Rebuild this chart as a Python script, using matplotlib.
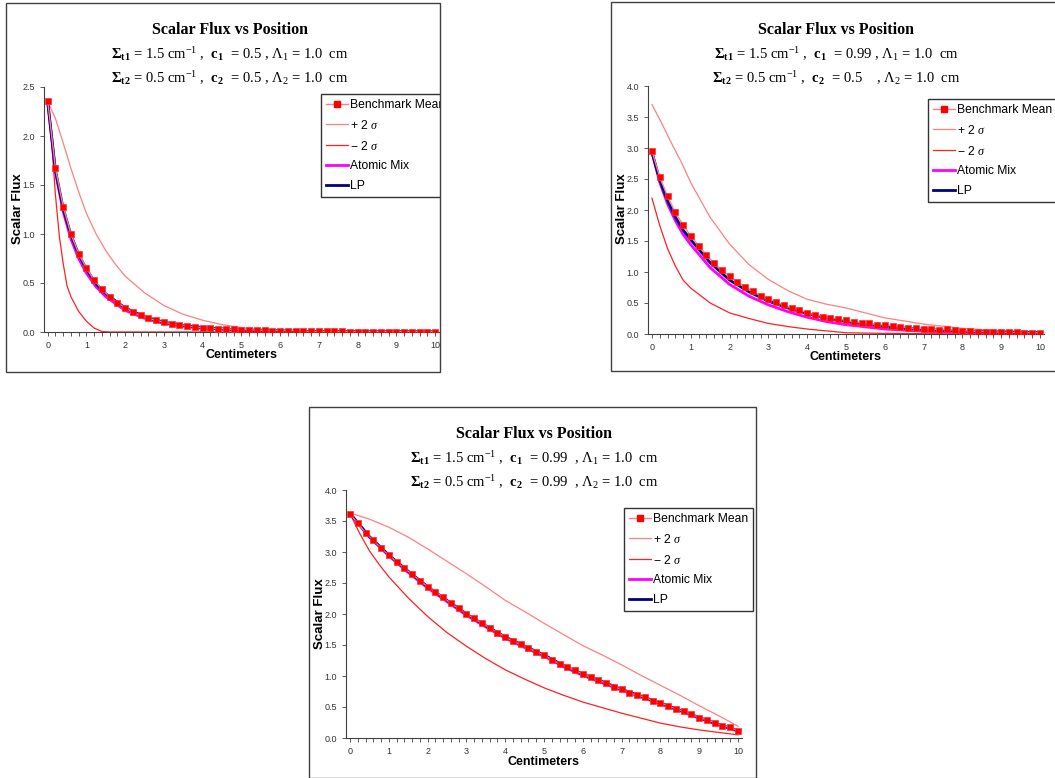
import numpy as np
import matplotlib
matplotlib.use('Agg')
import matplotlib.pyplot as plt
from matplotlib.patches import Rectangle
from matplotlib.lines import Line2D
from matplotlib.ticker import FormatStrFormatter

plt.rcParams['font.family'] = ['Liberation Sans', 'DejaVu Sans']
plt.rcParams['mathtext.fontset'] = 'custom'
plt.rcParams['mathtext.rm'] = 'Liberation Serif'
plt.rcParams['mathtext.it'] = 'Liberation Serif:italic'
plt.rcParams['mathtext.bf'] = 'Liberation Serif:bold'

W, H = 1055, 778

# benchmark sample positions (cm), one every 0.2 cm
x_bench = np.linspace(0, 10, 51)

# ---- panel 1: c1 = 0.5, c2 = 0.5 ----
bench1 = [2.36, 1.67, 1.28, 1.00, 0.80, 0.65, 0.53, 0.44, 0.36, 0.30,
          0.25, 0.20, 0.17, 0.14, 0.12, 0.10, 0.085, 0.075, 0.065, 0.05,
          0.045, 0.04, 0.035, 0.032, 0.028, 0.025, 0.022, 0.02, 0.017, 0.015,
          0.014, 0.012, 0.013, 0.009, 0.008, 0.007, 0.007, 0.006, 0.006, 0.005,
          0.005, 0.005, 0.005, 0.004, 0.004, 0.004, 0.004, 0.004, 0.004, 0.004, 0.004]
x1_hi = [0, 0.2, 0.4, 0.6, 0.8, 1.0, 1.25, 1.5, 1.75, 2.0, 2.5, 3.0, 3.5, 4.0, 4.5, 5.0, 6.0, 7.0, 8.0, 9.0, 10.0]
hi1 = [2.35, 2.18, 1.93, 1.67, 1.43, 1.21, 1.00, 0.83, 0.69, 0.57, 0.40, 0.27, 0.18, 0.12, 0.075, 0.045, 0.02, 0.01, 0.005, 0.003, 0.002]
x1_lo = [0, 0.1, 0.2, 0.3, 0.4, 0.5, 0.6, 0.8, 1.0, 1.2, 1.4, 1.6, 10.0]
lo1 = [2.35, 1.95, 1.40, 0.98, 0.70, 0.47, 0.36, 0.21, 0.11, 0.04, 0.005, 0.0, 0.0]
x1_mod = [0, 0.2, 0.4, 0.6, 0.8, 1.0, 1.25, 1.5, 2.0, 2.5, 3.0, 3.5, 4.0, 5.0, 6.0, 7.0, 8.0, 9.0, 10.0]
lp1 = [2.35, 1.65, 1.26, 0.99, 0.79, 0.64, 0.49, 0.39, 0.245, 0.155, 0.10, 0.068, 0.045, 0.02, 0.01, 0.005, 0.003, 0.002, 0.001]
am1 = [2.35, 1.63, 1.23, 0.95, 0.75, 0.60, 0.46, 0.36, 0.22, 0.14, 0.088, 0.058, 0.038, 0.016, 0.007, 0.003, 0.002, 0.001, 0.001]

# ---- panel 2: c1 = 0.99, c2 = 0.5 ----
bench2 = [2.95, 2.53, 2.22, 1.96, 1.76, 1.58, 1.42, 1.28, 1.14, 1.03,
          0.935, 0.84, 0.76, 0.69, 0.62, 0.57, 0.52, 0.46, 0.42, 0.39,
          0.34, 0.31, 0.28, 0.26, 0.24, 0.22, 0.19, 0.18, 0.17, 0.15,
          0.145, 0.13, 0.11, 0.10, 0.09, 0.085, 0.08, 0.065, 0.075, 0.06,
          0.05, 0.05, 0.04, 0.04, 0.035, 0.03, 0.025, 0.025, 0.022, 0.02, 0.02]
x2_hi = [0, 0.25, 0.5, 0.75, 1.0, 1.5, 2.0, 2.5, 3.0, 3.5, 4.0, 4.5, 5.0, 6.0, 7.0, 8.0, 9.0, 10.0]
hi2 = [3.70, 3.40, 3.08, 2.78, 2.44, 1.88, 1.45, 1.12, 0.88, 0.70, 0.56, 0.48, 0.42, 0.26, 0.16, 0.09, 0.055, 0.035]
x2_mod = [0, 0.2, 0.4, 0.6, 0.8, 1.0, 1.5, 2.0, 2.5, 3.0, 3.5, 4.0, 4.5, 5.0, 6.0, 7.0, 8.0, 9.0, 10.0]
lo2 = [2.19, 1.75, 1.38, 1.10, 0.87, 0.74, 0.50, 0.34, 0.25, 0.17, 0.12, 0.08, 0.05, 0.02, 0.01, 0.005, 0.003, 0.002, 0.001]
lp2 = [2.93, 2.48, 2.15, 1.89, 1.68, 1.52, 1.15, 0.87, 0.68, 0.53, 0.42, 0.33, 0.26, 0.20, 0.12, 0.075, 0.045, 0.03, 0.02]
am2 = [2.93, 2.45, 2.10, 1.83, 1.61, 1.44, 1.07, 0.80, 0.61, 0.47, 0.36, 0.27, 0.20, 0.15, 0.08, 0.045, 0.025, 0.015, 0.01]

# ---- panel 3: c1 = 0.99, c2 = 0.99 ----
bench3 = [3.62, 3.46, 3.31, 3.19, 3.06, 2.95, 2.84, 2.74, 2.64, 2.54,
          2.44, 2.36, 2.27, 2.17, 2.09, 2.00, 1.93, 1.85, 1.78, 1.70,
          1.63, 1.56, 1.51, 1.45, 1.39, 1.34, 1.26, 1.20, 1.14, 1.09,
          1.03, 0.98, 0.94, 0.88, 0.83, 0.785, 0.73, 0.69, 0.66, 0.60,
          0.56, 0.52, 0.47, 0.43, 0.38, 0.33, 0.29, 0.25, 0.20, 0.17, 0.12]
x3_half = [0, 0.5, 1.0, 1.5, 2.0, 2.5, 3.0, 3.5, 4.0, 4.5, 5.0, 5.5, 6.0, 6.5, 7.0, 7.5, 8.0, 8.5, 9.0, 9.5, 10.0]
hi3 = [3.63, 3.53, 3.40, 3.24, 3.05, 2.85, 2.65, 2.44, 2.22, 2.04, 1.85, 1.67, 1.49, 1.34, 1.18, 1.01, 0.85, 0.69, 0.52, 0.36, 0.19]
x3_lo = [0, 0.25, 0.5, 0.75, 1.0, 1.5, 2.0, 2.5, 3.0, 3.5, 4.0, 4.5, 5.0, 5.5, 6.0, 6.5, 7.0, 7.5, 8.0, 8.5, 9.0, 9.5, 10.0]
lo3 = [3.62, 3.30, 3.02, 2.80, 2.60, 2.26, 1.96, 1.70, 1.48, 1.28, 1.10, 0.95, 0.81, 0.69, 0.58, 0.49, 0.40, 0.32, 0.24, 0.18, 0.13, 0.09, 0.05]
lp3 = [3.62, 3.25, 2.95, 2.69, 2.44, 2.22, 2.00, 1.81, 1.63, 1.48, 1.34, 1.17, 1.03, 0.91, 0.785, 0.675, 0.56, 0.45, 0.33, 0.22, 0.12]
am3 = [3.62, 3.24, 2.94, 2.67, 2.42, 2.20, 1.98, 1.79, 1.61, 1.46, 1.32, 1.15, 1.01, 0.89, 0.77, 0.66, 0.55, 0.44, 0.32, 0.21, 0.11]

legend_labels = ['Benchmark Mean', '+ 2 $\\sigma$', '\u2212 2 $\\sigma$', 'Atomic Mix', 'LP']

titles = [
    [r'$\mathbf{\Sigma_{t1}}$ = 1.5 cm$^{-1}$ ,  $\mathbf{c_1}$  = 0.5 , $\Lambda_1$ = 1.0  cm',
     r'$\mathbf{\Sigma_{t2}}$ = 0.5 cm$^{-1}$ ,  $\mathbf{c_2}$  = 0.5 , $\Lambda_2$ = 1.0  cm'],
    [r'$\mathbf{\Sigma_{t1}}$ = 1.5 cm$^{-1}$ ,  $\mathbf{c_1}$  = 0.99 , $\Lambda_1$ = 1.0  cm',
     r'$\mathbf{\Sigma_{t2}}$ = 0.5 cm$^{-1}$ ,  $\mathbf{c_2}$  = 0.5    , $\Lambda_2$ = 1.0  cm'],
    [r'$\mathbf{\Sigma_{t1}}$ = 1.5 cm$^{-1}$ ,  $\mathbf{c_1}$  = 0.99  , $\Lambda_1$ = 1.0  cm',
     r'$\mathbf{\Sigma_{t2}}$ = 0.5 cm$^{-1}$ ,  $\mathbf{c_2}$  = 0.99  , $\Lambda_2$ = 1.0  cm'],
]

C_BENCH_LINE = '#ff8080'
C_RED = '#ff0000'
C_HI = '#ff8080'
C_LO = '#ff2020'
C_AM = '#ff00ff'
C_LP = '#000080'
C_AX = '#404040'

fig = plt.figure(figsize=(W / 100, H / 100), dpi=100)


def fx(px):
    return px / W


def fy(py):
    return 1 - py / H


def make_axes(x0, x1, ytop, ybot):
    return fig.add_axes([fx(x0), fy(ybot), (x1 - x0) / W, (ybot - ytop) / H])


def draw_panel(ax, bench, xhi, hi, xlo, lo, xmod, lp, xam, am, ymax, leg_xy):
    ax.plot(xhi, hi, color=C_HI, lw=0.9, zorder=2)
    ax.plot(xlo, lo, color=C_LO, lw=0.9, zorder=2)
    ax.plot(xam, am, color=C_AM, lw=2.0, zorder=3)
    ax.plot(xmod, lp, color=C_LP, lw=2.0, zorder=4)
    ax.plot(x_bench, bench, color=C_BENCH_LINE, lw=1.0, marker='s', ms=4.8,
            mfc=C_RED, mec='#ff3030', mew=0.5, zorder=5)

    ax.set_xlim(-0.1, 10.1)
    ax.set_ylim(0, ymax)
    ax.set_xticks(range(11))
    ax.set_xticks(x_bench, minor=True)
    ax.set_yticks(np.arange(0, ymax + 0.01, 0.5))
    ax.yaxis.set_major_formatter(FormatStrFormatter('%.1f'))
    ax.tick_params(axis='both', which='both', direction='out', length=3, width=0.6,
                   color=C_AX, labelcolor='#333333', labelsize=6.5, pad=3.5)
    for s in ['top', 'right']:
        ax.spines[s].set_visible(False)
    for s in ['left', 'bottom']:
        ax.spines[s].set_color(C_AX)
        ax.spines[s].set_linewidth(0.8)

    handles = [
        Line2D([], [], color=C_BENCH_LINE, lw=1.0, marker='s', ms=4.5, mfc=C_RED, mec=C_RED),
        Line2D([], [], color=C_HI, lw=0.9),
        Line2D([], [], color=C_LO, lw=0.9),
        Line2D([], [], color=C_AM, lw=2.0),
        Line2D([], [], color=C_LP, lw=2.0),
    ]
    leg = ax.legend(handles, legend_labels, loc='upper left',
                    bbox_to_anchor=(fx(leg_xy[0]), fy(leg_xy[1])),
                    bbox_transform=fig.transFigure, borderaxespad=0,
                    fontsize=8.7, frameon=True, fancybox=False, framealpha=1,
                    edgecolor='#333333', handlelength=1.8, handletextpad=0.2,
                    labelspacing=0.65, borderpad=0.4)
    leg.get_frame().set_linewidth(1.0)


def panel_text(cx, ytitle, lines, x_ylab, y_ylab, x_xlab, y_xlab):
    fig.text(fx(cx), fy(ytitle), 'Scalar Flux vs Position', ha='center', va='center',
             family='Liberation Serif', fontweight='bold', fontsize=11.5)
    fig.text(fx(cx), fy(ytitle + 24), lines[0], ha='center', va='center',
             family='Liberation Serif', fontsize=10.5)
    fig.text(fx(cx), fy(ytitle + 48), lines[1], ha='center', va='center',
             family='Liberation Serif', fontsize=10.5)
    fig.text(fx(x_ylab), fy(y_ylab), 'Scalar Flux', rotation=90, ha='center', va='center',
             fontweight='bold', fontsize=9.5)
    fig.text(fx(x_xlab), fy(y_xlab), 'Centimeters', ha='center', va='center',
             fontweight='bold', fontsize=9)


# panel 1 (top left)
ax1 = make_axes(43.8, 439, 87, 332)
draw_panel(ax1, bench1, x1_hi, hi1, x1_lo, lo1, x1_mod, lp1, x1_mod, am1, 2.5, (321, 94))
panel_text(230, 30, titles[0], 18, 209, 241, 355)

# panel 2 (top right)
ax2 = make_axes(648.1, 1043.9, 86, 334)
draw_panel(ax2, bench2, x2_hi, hi2, x2_mod, lo2, x2_mod, lp2, x2_mod, am2, 4.0, (928, 99))
panel_text(836, 30, titles[1], 622, 209, 846, 357)

# panel 3 (bottom centre)
ax3 = make_axes(346.1, 741.9, 490, 738)
draw_panel(ax3, bench3, x3_half, hi3, x3_lo, lo3, x3_half, lp3, x3_half, am3, 4.0, (624, 508))
panel_text(534, 434, titles[2], 320, 614, 544, 762)

# hide the part of panel 1's legend that spills past its frame
fig.add_artist(Rectangle((fx(440.5), fy(380)), (609 - 440.5) / W, 380 / H,
                         transform=fig.transFigure, facecolor='white', edgecolor='none', zorder=5))

# chart frames
for (x0, y0, x1, y1) in [(5.5, 2.5, 440, 371.5), (610.5, 1.5, 1060, 370.5), (308.5, 406.5, 756, 777.5)]:
    fig.add_artist(Rectangle((fx(x0), fy(y1)), (x1 - x0) / W, (y1 - y0) / H,
                             transform=fig.transFigure, fill=False, edgecolor=C_AX,
                             lw=1.0, zorder=6))

fig.savefig('out.png', dpi=100)
